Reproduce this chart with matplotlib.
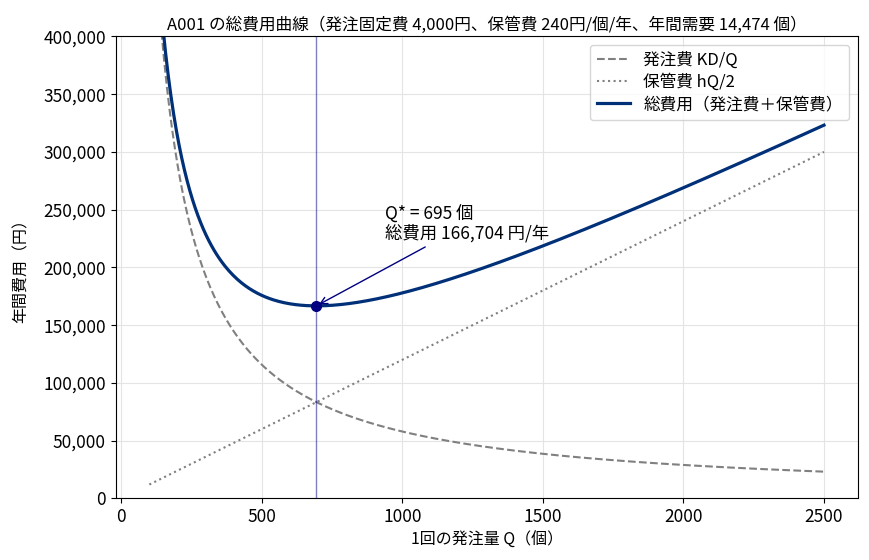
import numpy as np
import matplotlib
matplotlib.use("Agg")
import matplotlib.pyplot as plt
from matplotlib.ticker import FuncFormatter

plt.rcParams['font.family'] = ['Noto Sans CJK JP', 'DejaVu Sans']

# parameters read from the title
item = "A001"
K = 4000      # 発注固定費 (円)
h = 240       # 保管費 (円/個/年)
D = 14474     # 年間需要 (個)
q_range = [100, 2500]

Q = np.linspace(q_range[0], q_range[1], 500)
order_cost = K * D / Q
hold_cost = h * Q / 2
total_cost = order_cost + hold_cost

q_star = np.sqrt(2 * K * D / h)
tc_star = np.sqrt(2 * K * D * h)

fig, ax = plt.subplots(figsize=(8.69, 5.6), dpi=100)
ax.plot(Q, order_cost, ls='--', color='gray', lw=1.5, label='発注費 KD/Q')
ax.plot(Q, hold_cost, ls=':', color='gray', lw=1.5, label='保管費 hQ/2')
ax.plot(Q, total_cost, color='#003078', lw=2.3, label='総費用（発注費＋保管費）')
ax.axvline(q_star, color='darkblue', alpha=0.5, lw=1)
ax.plot([q_star], [tc_star], 'o', color='navy', ms=7, zorder=5)
ax.annotate(f"Q* = {q_star:.0f} 個\n総費用 {tc_star:,.0f} 円/年",
            xy=(q_star, tc_star), xytext=(q_star + 245, tc_star + 58000),
            fontsize=12.5, linespacing=1.05,
            arrowprops=dict(arrowstyle='->', color='navy', lw=1))

ax.set_ylim(0, 400000)
ax.yaxis.set_major_formatter(FuncFormatter(lambda v, p: f"{v:,.0f}"))
ax.tick_params(labelsize=12.5)
ax.grid(True, color='#e4e4e4', lw=0.8)
ax.set_xlabel('1回の発注量 Q（個）', fontsize=11.5, labelpad=4)
ax.set_ylabel('年間費用（円）', fontsize=11.5, labelpad=10)
ax.set_title(f"{item} の総費用曲線（発注固定費 {K:,}円、保管費 {h}円/個/年、年間需要 {D:,} 個）",
             fontsize=12, pad=5)
ax.legend(loc='upper right', fontsize=12, labelspacing=0.3)
fig.subplots_adjust(left=0.133, right=0.987, top=0.935, bottom=0.11)
fig.savefig('out.png')
